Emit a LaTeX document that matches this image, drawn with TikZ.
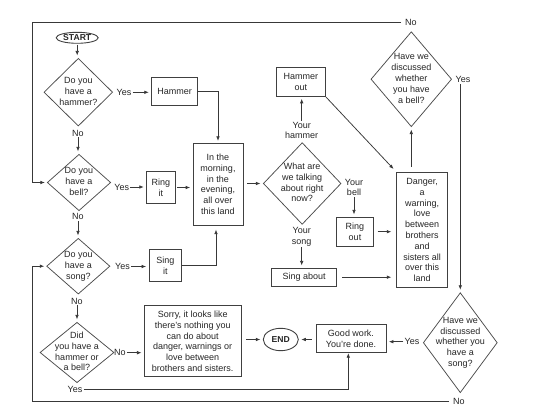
\documentclass[tikz,border=0pt]{standalone}
\usepackage{fontspec}
\setmainfont{Liberation Sans}
\usetikzlibrary{shapes.geometric,arrows.meta}
\newcommand\dtxt[1]{\smash{\raisebox{-2.3pt}{\makebox[0pt]{\begin{tabular}{@{}c@{}}#1\end{tabular}}}}}
\tikzset{
  base/.style={font=\fontsize{9}{10.8}\selectfont, text=black!85},
  box/.style={base, draw=black!75, line width=0.75pt, rectangle, align=center, inner sep=0.5pt},
  dia/.style={base, draw=black!70, line width=0.75pt, diamond, inner sep=0pt},
  term/.style={draw=black!75, line width=0.9pt, ellipse, inner sep=0pt, text=black!85,
               font=\fontsize{8.6}{10}\selectfont\bfseries},
  lab/.style={base, inner sep=1pt, align=center},
  ln/.style={draw=black!78, line width=0.75pt},
  arr/.style={ln, -{Latex[length=4.5pt,width=3.6pt]}, shorten >=2.5pt},
}
\begin{document}
\begin{tikzpicture}[x=1pt,y=-1pt]
\useasboundingbox[fill=white] (0,0) rectangle (550,412);

% terminals
\node[term, minimum width=42pt, minimum height=11pt] (start) at (77.2,37.8) {START};
\node[term, minimum width=35pt, minimum height=22.4pt] (end) at (280.8,339.5) {END};

% decisions
\node[dia, minimum width=68.7pt, minimum height=67.7pt] (d1) at (78.3,92.2) {\dtxt{Do you\\have a\\hammer?}};
\node[dia, minimum width=63.4pt, minimum height=56.4pt] (d2) at (79,182.5) {\dtxt{Do you\\have a\\bell?}};
\node[dia, minimum width=63.3pt, minimum height=55.7pt] (d3) at (78.3,266.2) {\dtxt{Do you\\have a\\song?}};
\node[dia, minimum width=74pt, minimum height=60.4pt] (d4) at (77,352.5) {\dtxt{Did\\you have a\\hammer or\\a bell?}};
\node[dia, minimum width=77.7pt, minimum height=81.7pt] (dtalk) at (302.2,183.5) {\dtxt{What are\\we talking\\about right\\now?}};
\node[dia, minimum width=80.7pt, minimum height=95pt] (dbell) at (411.3,79.2) {\dtxt{Have we\\discussed\\whether\\you have\\a bell?}};
\node[dia, minimum width=74pt, minimum height=100pt] (dsong) at (460.3,342.7) {\dtxt{Have we\\discussed\\whether you\\have a\\song?}};

% boxes
\node[box, minimum width=46pt, minimum height=27.7pt] (hammer) at (174.7,91.2) {Hammer};
\node[box, minimum width=28.3pt, minimum height=31.7pt] (ringit) at (160.8,187.5) {Ring\\it};
\node[box, minimum width=50pt, minimum height=82pt] (morning) at (218,184.2) {In the\\morning,\\in the\\evening,\\all over\\this land};
\node[box, minimum width=32.7pt, minimum height=32.3pt] (singit) at (165.3,265.5) {Sing\\it};
\node[box, minimum width=96.7pt, minimum height=71pt] (sorry) at (192.7,341.2) {Sorry, it looks like\\there’s nothing you\\can do about\\danger, warnings or\\love between\\brothers and sisters.};
\node[box, minimum width=48.3pt, minimum height=28.3pt] (hammerout) at (300.8,81.8) {Hammer\\out};
\node[box, minimum width=36.7pt, minimum height=28.7pt] (ringout) at (355,231.7) {Ring\\out};
\node[box, minimum width=65pt, minimum height=17.7pt] (singabout) at (304.2,277.2) {Sing about};
\node[box, minimum width=51pt, minimum height=115.4pt] (danger) at (422.2,230) {Danger,\\a\\warning,\\love\\between\\brothers\\and\\sisters all\\over this\\land};
\node[box, minimum width=70pt, minimum height=28.7pt] (goodwork) at (351,338.4) {Good work.\\You’re done.};

% labels
\node[lab] (yes1) at (124,92.3) {Yes};
\node[lab] (no1) at (78,133) {No};
\node[lab] (yes2) at (121.7,187) {Yes};
\node[lab] (no2) at (78,216.7) {No};
\node[lab] (yes3) at (122.5,266.5) {Yes};
\node[lab] (no3) at (77,301) {No};
\node[lab] (no4) at (120,352.7) {No};
\node[lab] (yes4) at (75,389.5) {Yes};
\node[lab] (yourhammer) at (301.7,130.5) {Your\\hammer};
\node[lab] (yourbell) at (354,187.5) {Your\\bell};
\node[lab] (yoursong) at (301.7,236.5) {Your\\song};
\node[lab] (nob) at (411,22.5) {No};
\node[lab] (yesb) at (463,79) {Yes};
\node[lab] (yess) at (412,341.7) {Yes};
\node[lab] (nos) at (459,401.2) {No};
\coordinate (lx) at (32.7,0);

% connectors
\draw[arr, shorten <=1pt] (start.south) -- (start.south |- d1.north);
\draw[arr] (no1.south) -- (no1.south |- d2.north);
\draw[arr] (no2.south) -- (no2.south |- d3.north);
\draw[arr] (no3.south) -- (no3.south |- d4.north);
\draw[arr] (yes1.east) -- (yes1.east -| hammer.west);
\draw[arr] (yes2.east) -- (yes2.east -| ringit.west);
\draw[arr] (yes3.east) -- (yes3.east -| singit.west);
\draw[arr] (no4.east) -- (no4.east -| sorry.west);
\draw[arr, shorten >=2pt] (hammer.east) -| (morning.north);
\draw[arr, shorten <=2pt] (ringit.east) -- (ringit.east -| morning.west);
\draw[arr, shorten >=4pt] (singit.east) -| ([xshift=-2pt]morning.south);
\draw[arr, shorten <=4pt] (dtalk.west -| morning.east) -- (dtalk.west);
\draw[arr, shorten <=5pt] (end.west -| sorry.east) -- (end.west);
\draw[arr, shorten >=0pt] (yes4.east) -| ([xshift=-2.7pt]goodwork.south);
\draw[arr, shorten <=4pt] (end.east -| goodwork.west) -- (end.east);
\draw[arr] (yess.west) -- (yess.west -| goodwork.east);
\draw[arr] (yourhammer.north) -- (yourhammer.north |- hammerout.south);
\draw[arr] (yourbell.south) -- (yourbell.south |- ringout.north);
\draw[arr] (yoursong.south) -- (yoursong.south |- singabout.north);
\draw[arr, shorten <=1pt, shorten >=4pt] (hammerout.south east) -- (danger.north west);
\draw[arr, shorten <=4pt, shorten >=5pt] (ringout.east) -- (ringout.east -| danger.west);
\draw[arr, shorten <=5pt, shorten >=5pt] (singabout.east) -- (singabout.east -| danger.west);
\draw[arr, shorten <=5pt] (dbell.south |- danger.north) -- (dbell.south);
\draw[arr, shorten <=1pt] (dsong.north |- yesb.south) -- (dsong.north);
\draw[arr, shorten >=2pt] ([xshift=-3pt]nob.west) -- (nob.west -| lx) |- (d2.west);
\draw[arr, shorten >=2pt] ([xshift=-3pt]nos.west) -- (nos.west -| lx) |- (d3.west);
\end{tikzpicture}
\end{document}
